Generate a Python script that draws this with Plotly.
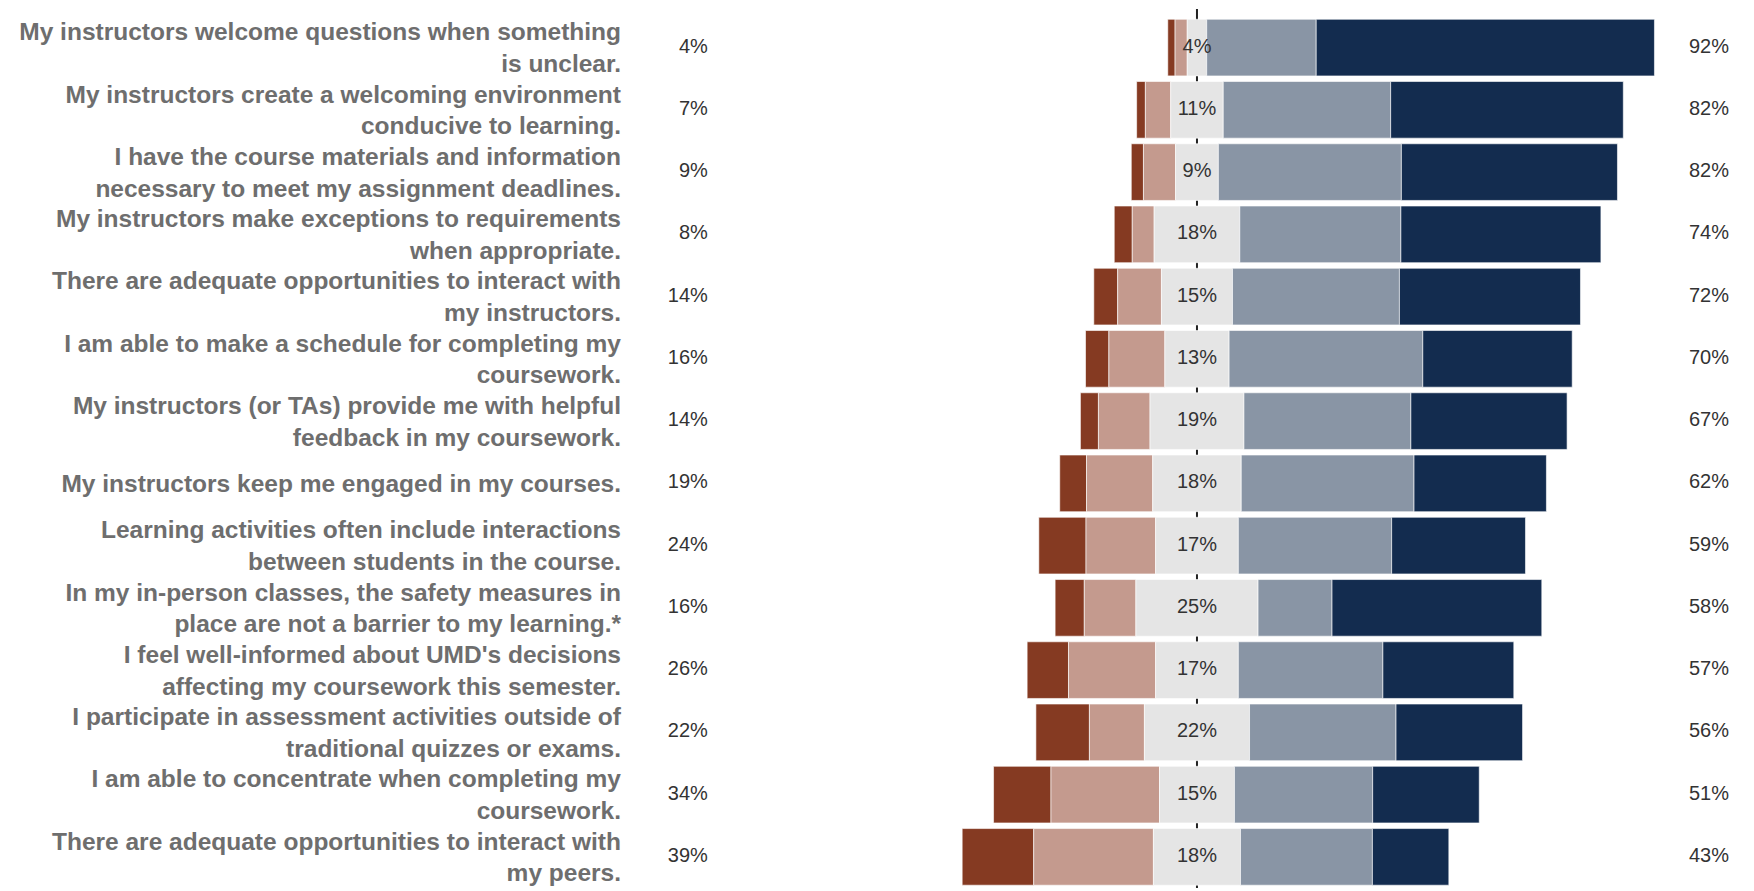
import plotly.graph_objects as go

# survey items, top to bottom
questions = [
    "My instructors welcome questions when something<br>is unclear.",
    "My instructors create a welcoming environment<br>conducive to learning.",
    "I have the course materials and information<br>necessary to meet my assignment deadlines.",
    "My instructors make exceptions to requirements<br>when appropriate.",
    "There are adequate opportunities to interact with<br>my instructors.",
    "I am able to make a schedule for completing my<br>coursework.",
    "My instructors (or TAs) provide me with helpful<br>feedback in my coursework.",
    "My instructors keep me engaged in my courses.",
    "Learning activities often include interactions<br>between students in the course.",
    "In my in-person classes, the safety measures in<br>place are not a barrier to my learning.*",
    "I feel well-informed about UMD's decisions<br>affecting my coursework this semester.",
    "I participate in assessment activities outside of<br>traditional quizzes or exams.",
    "I am able to concentrate when completing my<br>coursework.",
    "There are adequate opportunities to interact with<br>my peers.",
]

# percent of responses per level
strongly_disagree = [1.5, 1.8, 2.5, 3.7, 4.9, 4.8, 3.7, 5.5, 9.7, 6.0, 8.5, 11.0, 11.8, 14.7]
disagree = [2.5, 5.2, 6.6, 4.5, 9.0, 11.5, 10.6, 13.6, 14.3, 10.6, 17.9, 11.3, 22.3, 24.6]
neutral = [4.0, 10.8, 8.8, 17.6, 14.6, 13.2, 19.3, 18.2, 17.0, 25.1, 17.0, 21.6, 15.4, 17.9]
agree = [22.5, 34.4, 37.6, 33.1, 34.3, 39.8, 34.3, 35.5, 31.5, 15.2, 29.7, 30.1, 28.4, 27.1]
strongly_agree = [69.5, 47.8, 44.4, 41.1, 37.2, 30.7, 32.1, 27.2, 27.5, 43.1, 26.9, 26.0, 21.9, 15.7]

# printed summary labels
neg_labels = ["4%", "7%", "9%", "8%", "14%", "16%", "14%", "19%", "24%", "16%", "26%", "22%", "34%", "39%"]
neu_labels = ["4%", "11%", "9%", "18%", "15%", "13%", "19%", "18%", "17%", "25%", "17%", "22%", "15%", "18%"]
pos_labels = ["92%", "82%", "82%", "74%", "72%", "70%", "67%", "62%", "59%", "58%", "57%", "56%", "51%", "43%"]

colors = ["#853a22", "#c49a8e", "#e5e5e5", "#8995a5", "#132c4f"]

# bases so the neutral block is centred on zero
half = [n / 2 for n in neutral]
base_dis = [-h - d for h, d in zip(half, disagree)]
base_sdis = [b - s for b, s in zip(base_dis, strongly_disagree)]
base_neu = [-h for h in half]
base_agr = half
base_sagr = [h + a for h, a in zip(half, agree)]

fig = go.Figure()
segments = [
    (strongly_disagree, base_sdis, colors[0]),
    (disagree, base_dis, colors[1]),
    (neutral, base_neu, colors[2]),
    (agree, base_agr, colors[3]),
    (strongly_agree, base_sagr, colors[4]),
]
for vals, base, col in segments:
    fig.add_trace(go.Bar(
        y=questions, x=vals, base=base, orientation="h",
        marker=dict(color=col, line=dict(color="rgba(255,255,255,0.6)", width=1)),
        width=0.91, showlegend=False, hoverinfo="skip",
    ))

txt_font = dict(family="Liberation Sans, Arial, sans-serif", size=20, color="#333333")
fig.add_trace(go.Scatter(y=questions, x=[-100.5] * len(questions), text=neg_labels,
                         mode="text", textposition="middle left", textfont=txt_font,
                         showlegend=False, hoverinfo="skip"))
fig.add_trace(go.Scatter(y=questions, x=[0] * len(questions), text=neu_labels,
                         mode="text", textposition="middle center", textfont=txt_font,
                         showlegend=False, hoverinfo="skip"))
fig.add_trace(go.Scatter(y=questions, x=[105.2] * len(questions), text=pos_labels,
                         mode="text", textposition="middle center", textfont=txt_font,
                         showlegend=False, hoverinfo="skip"))

# zero line behind the bars
fig.add_shape(type="line", xref="x", yref="y", x0=0, x1=0, y0=-0.62, y1=13.5,
              line=dict(color="#222222", width=2), layer="below")

# page body has an 8px margin, so the figure is a bit smaller than the window
fig.update_layout(
    width=1746, height=883,
    barmode="overlay",
    plot_bgcolor="white", paper_bgcolor="white",
    margin=dict(l=622, r=10, t=1, b=3),
    xaxis=dict(range=[-116.5, 112.4], visible=False, fixedrange=True),
    yaxis=dict(
        range=[13.5, -0.62], showgrid=False, zeroline=False, showline=False,
        ticks="", ticklabelstandoff=8,
        tickfont=dict(family="Liberation Sans, Arial, sans-serif", size=24.5, color="#6e6e6e", weight="bold"),
    ),
)

fig.write_html("out.html")
